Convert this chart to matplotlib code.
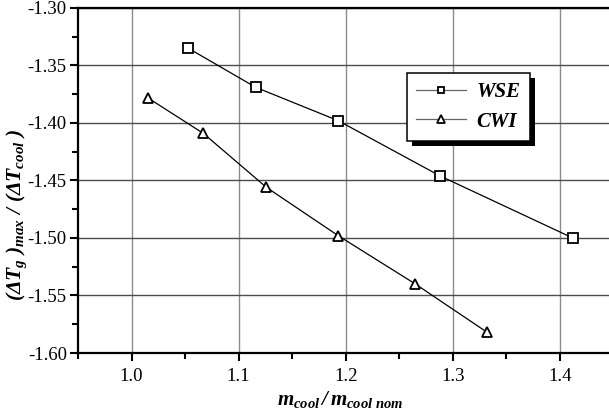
import matplotlib
matplotlib.use("Agg")
import matplotlib.pyplot as plt
from matplotlib.ticker import MultipleLocator, FormatStrFormatter
from matplotlib.patches import Rectangle

plt.rcParams['font.family'] = 'Liberation Serif'
plt.rcParams['mathtext.fontset'] = 'custom'
plt.rcParams['mathtext.rm'] = 'Liberation Serif:bold:italic'
plt.rcParams['mathtext.it'] = 'Liberation Serif:bold:italic'
plt.rcParams['mathtext.bf'] = 'Liberation Serif:bold:italic'

# mass flow ratio vs. normalised max gas temperature drop
wse_x = [1.053, 1.116, 1.193, 1.288, 1.412]
wse_y = [-1.335, -1.369, -1.398, -1.446, -1.500]
cwi_x = [1.015, 1.067, 1.126, 1.193, 1.265, 1.332]
cwi_y = [-1.378, -1.409, -1.456, -1.498, -1.540, -1.582]

fig = plt.figure(figsize=(6.09, 4.18), dpi=100)
ax = fig.add_axes([0.128, 0.1555, 1.0074 - 0.128, 0.8254])

ax.plot(wse_x, wse_y, color='black', lw=0.9, marker='s', ms=6.5,
        mfc='white', mec='black', mew=1.3, label='WSE', zorder=3)
ax.plot(cwi_x, cwi_y, color='black', lw=0.9, marker='^', ms=7.5,
        mfc='white', mec='black', mew=1.3, label='CWI', zorder=3)

ax.set_xlim(0.95, 1.45)
ax.set_ylim(-1.60, -1.30)
ax.xaxis.set_major_locator(MultipleLocator(0.1))
ax.xaxis.set_minor_locator(MultipleLocator(0.05))
ax.yaxis.set_major_locator(MultipleLocator(0.05))
ax.yaxis.set_minor_locator(MultipleLocator(0.025))
ax.xaxis.set_major_formatter(FormatStrFormatter('%.1f'))
ax.yaxis.set_major_formatter(FormatStrFormatter('%.2f'))

ax.grid(axis='x', which='major', color='0.55', lw=1.0)
ax.grid(axis='y', which='major', color='0.3', lw=1.0)
ax.set_axisbelow(True)

ax.tick_params(which='major', direction='out', length=6, width=1.5, labelsize=13.5)
ax.tick_params(which='minor', direction='out', length=4, width=1.5)
ax.tick_params(axis='x', pad=5)
ax.tick_params(axis='y', pad=2)
for side in ['left', 'bottom', 'top']:
    ax.spines[side].set_linewidth(1.6)
ax.spines['right'].set_visible(False)

ax.set_xlabel(r'$m_{cool}\,/\,m_{cool\ nom}$', fontsize=15)
ax.xaxis.set_label_coords(0.49, -0.105)
ax.set_ylabel(r'$(\Delta T_{g}\ )_{max}\ /\ (\Delta T_{cool}\ )$', fontsize=15.5)
ax.yaxis.set_label_coords(-0.092, 0.40)

leg = ax.legend(loc='upper left', bbox_to_anchor=(0.614, 0.8116), borderaxespad=0,
                fancybox=False, edgecolor='black', framealpha=1,
                prop={'family': 'Liberation Serif', 'weight': 'bold',
                      'style': 'italic', 'size': 15},
                handlelength=2.4, handletextpad=0.5, borderpad=0.45,
                labelspacing=0.45, markerscale=0.75)
leg.get_frame().set_linewidth(1.1)
leg.set_zorder(5)
for h in leg.get_lines():
    h.set_color('0.4')
    h.set_markeredgecolor('black')

# drop shadow behind the legend box
fig.canvas.draw()
bb = leg.get_window_extent().transformed(ax.transAxes.inverted())
dx = 5 / (ax.bbox.width)
dy = 5 / (ax.bbox.height)
shadow = Rectangle((bb.x0 + dx, bb.y0 - dy), bb.width, bb.height,
                   transform=ax.transAxes, facecolor='black', edgecolor='none',
                   zorder=4)
ax.add_patch(shadow)

fig.savefig('out.png', dpi=100)
